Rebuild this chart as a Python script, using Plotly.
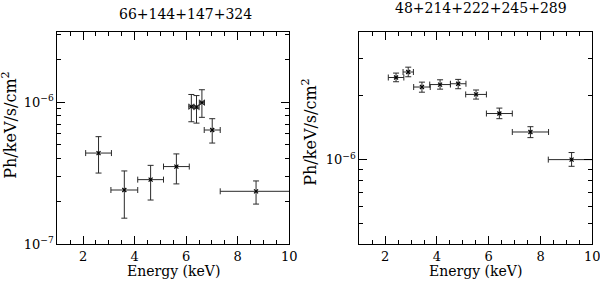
import plotly.graph_objects as go
from plotly.subplots import make_subplots

# Left panel: 66+144+147+324
left_title = "66+144+147+324"
left_x = [2.60, 3.60, 4.62, 5.62, 6.20, 6.40, 6.61, 7.01, 8.71]
left_xerr_lo = [0.50, 0.52, 0.50, 0.50, 0.10, 0.10, 0.10, 0.31, 1.39]
left_xerr_hi = [0.50, 0.52, 0.50, 0.50, 0.10, 0.10, 0.10, 0.31, 1.45]
left_y = [4.37e-7, 2.40e-7, 2.84e-7, 3.51e-7, 9.27e-7, 9.20e-7, 9.90e-7, 6.35e-7, 2.35e-7]
left_y_up = [5.70e-7, 3.27e-7, 3.58e-7, 4.31e-7, 1.13e-6, 1.11e-6, 1.22e-6, 7.63e-7, 2.78e-7]
left_y_dn = [3.16e-7, 1.52e-7, 2.04e-7, 2.65e-7, 7.26e-7, 7.10e-7, 7.80e-7, 5.14e-7, 1.91e-7]

# Right panel: 48+214+222+245+289
right_title = "48+214+222+245+289"
right_x = [2.42, 2.89, 3.42, 4.12, 4.82, 5.51, 6.41, 7.61, 9.20]
right_xerr = [0.30, 0.20, 0.32, 0.40, 0.30, 0.40, 0.50, 0.70, 0.90]
right_y = [2.44e-6, 2.59e-6, 2.20e-6, 2.26e-6, 2.28e-6, 2.03e-6, 1.65e-6, 1.35e-6, 1.00e-6]
right_y_up = [2.56e-6, 2.73e-6, 2.32e-6, 2.38e-6, 2.39e-6, 2.13e-6, 1.75e-6, 1.43e-6, 1.08e-6]
right_y_dn = [2.33e-6, 2.46e-6, 2.08e-6, 2.15e-6, 2.16e-6, 1.93e-6, 1.56e-6, 1.27e-6, 0.93e-6]

x_major = [2, 4, 6, 8, 10]
x_major_text = ["2", "4", "6", "8", "10"]
x_minor = [1 + 0.5 * i for i in range(19)]
x_label = "Energy (keV)"
y_label = "Ph/keV/s/cm<sup>2</sup>"

FONT = "DejaVu Serif"
INK = "#2a2a2a"
W, H = 600, 283
T, B = 32.3, 38.7

fig = make_subplots(rows=1, cols=2, horizontal_spacing=0.0)


def add_panel(col, x, xlo, xhi, y, yup, ydn):
    fig.add_trace(
        go.Scatter(
            x=x, y=y, mode="markers",
            marker=dict(symbol="x-thin", size=4, color="black",
                        line=dict(width=1.2, color="black")),
            error_x=dict(type="data", symmetric=False, array=xhi, arrayminus=xlo,
                         color=INK, thickness=1, width=3),
            error_y=dict(type="data", symmetric=False,
                         array=[u - v for u, v in zip(yup, y)],
                         arrayminus=[v - d for v, d in zip(y, ydn)],
                         color=INK, thickness=1, width=3),
            showlegend=False,
        ),
        row=1, col=col,
    )


add_panel(1, left_x, left_xerr_lo, left_xerr_hi, left_y, left_y_up, left_y_dn)
add_panel(2, right_x, right_xerr, right_xerr, right_y, right_y_up, right_y_dn)

axis_common = dict(
    showline=True, linecolor="black", linewidth=1, mirror="allticks",
    ticks="inside", ticklen=8, tickwidth=1, tickcolor="black",
    showgrid=False, zeroline=False, automargin=False, ticklabeloverflow="allow",
    tickfont=dict(family=FONT, size=13, color="black"),
)

doms = {1: [57.3, 289.3], 2: [359.3, 592.3]}
for col in (1, 2):
    fig.update_xaxes(
        domain=[doms[col][0] / W, doms[col][1] / W], range=[1, 10],
        tickmode="array", tickvals=x_major, ticktext=x_major_text,
        minor=dict(tickmode="array", tickvals=x_minor, ticklen=4, tickcolor="black", ticks="inside"),
        row=1, col=col, **axis_common,
    )

left_minor = [k * 1e-7 for k in range(2, 10)] + [2e-6, 3e-6]
fig.update_yaxes(
    type="log", range=[-7, -5.507], domain=[0, 1],
    tickmode="array", tickvals=[1e-7, 1e-6], ticktext=["10<sup>−7</sup>", "10<sup>−6</sup>"],
    minor=dict(tickmode="array", tickvals=left_minor, ticklen=4, tickcolor="black", ticks="inside"),
    row=1, col=1, **axis_common,
)
right_minor = [5e-7, 6e-7, 7e-7, 8e-7, 9e-7, 2e-6, 3e-6]
fig.update_yaxes(
    type="log", range=[-6.398, -5.398], domain=[0, 1],
    tickmode="array", tickvals=[1e-6], ticktext=["10<sup>−6</sup>"],
    minor=dict(tickmode="array", tickvals=right_minor, ticklen=4, tickcolor="black", ticks="inside"),
    row=1, col=2, **axis_common,
)

PH = H - T - B


def ann(text, cx, cy, size, angle=0):
    fig.add_annotation(text=text, x=cx / W, y=(H - B - cy) / PH, xref="paper", yref="paper",
                       xanchor="center", yanchor="middle", showarrow=False, textangle=angle,
                       font=dict(family=FONT, size=size, color="black"))


ann(left_title, 185, 14, 14)
ann(right_title, 481, 8, 14)
ann(x_label, 173, 271, 14)
ann(x_label, 475, 271, 14)
ann(y_label, 10, 126, 16, -90)
ann(y_label, 310, 133, 16, -90)

fig.update_layout(
    width=W, height=H,
    margin=dict(l=0, r=0, t=T, b=B),
    paper_bgcolor="white", plot_bgcolor="white",
    font=dict(family=FONT, color="black"),
)

fig.write_html("out.html", config={"displayModeBar": False},
               post_script="document.body.style.margin='0px';")
